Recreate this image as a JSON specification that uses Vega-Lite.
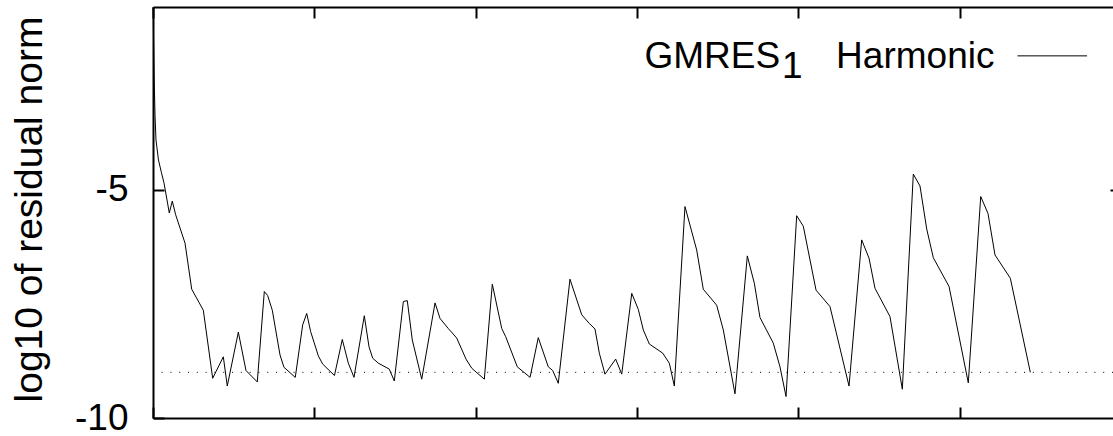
{
  "$schema": "https://vega.github.io/schema/vega-lite/v6.json",
  "width": 960,
  "height": 411,
  "autosize": {"type": "none"},
  "padding": {"left": 153, "top": 7, "right": 0, "bottom": 18},
  "background": "white",
  "config": {"view": {"stroke": null}, "font": "Liberation Sans"},
  "datasets": {
    "series": [
      {"it": 0.02, "r": -1.0}, {"it": 0.07, "r": -1.72}, {"it": 0.15, "r": -2.6}, {"it": 0.25, "r": -3.37},
      {"it": 0.37, "r": -3.91}, {"it": 0.68, "r": -4.35}, {"it": 1.05, "r": -4.63}, {"it": 1.36, "r": -4.85},
      {"it": 2.02, "r": -5.51}, {"it": 2.39, "r": -5.25}, {"it": 2.81, "r": -5.55}, {"it": 3.97, "r": -6.17},
      {"it": 4.8, "r": -7.18}, {"it": 6.24, "r": -7.64}, {"it": 7.4, "r": -9.13}, {"it": 8.72, "r": -8.66},
      {"it": 9.21, "r": -9.3}, {"it": 10.58, "r": -8.12}, {"it": 11.53, "r": -8.96}, {"it": 12.93, "r": -9.21},
      {"it": 13.8, "r": -7.23}, {"it": 14.22, "r": -7.32}, {"it": 14.79, "r": -7.64}, {"it": 15.75, "r": -8.62},
      {"it": 16.24, "r": -8.89}, {"it": 17.64, "r": -9.11}, {"it": 18.56, "r": -7.96}, {"it": 19.06, "r": -7.71},
      {"it": 19.55, "r": -8.11}, {"it": 20.5, "r": -8.64}, {"it": 21.04, "r": -8.82}, {"it": 22.5, "r": -9.07},
      {"it": 23.47, "r": -8.28}, {"it": 24.22, "r": -8.8}, {"it": 24.92, "r": -9.11}, {"it": 26.2, "r": -7.76},
      {"it": 26.78, "r": -8.44}, {"it": 27.24, "r": -8.69}, {"it": 27.94, "r": -8.8}, {"it": 29.3, "r": -8.93},
      {"it": 29.92, "r": -9.19}, {"it": 31.04, "r": -7.45}, {"it": 31.53, "r": -7.43}, {"it": 32.15, "r": -8.29},
      {"it": 33.32, "r": -9.15}, {"it": 34.97, "r": -7.48}, {"it": 35.59, "r": -7.82}, {"it": 36.61, "r": -8.04},
      {"it": 37.66, "r": -8.25}, {"it": 38.81, "r": -8.71}, {"it": 39.52, "r": -8.91}, {"it": 41.08, "r": -9.15},
      {"it": 42.07, "r": -7.07}, {"it": 43.24, "r": -8.04}, {"it": 43.73, "r": -8.22}, {"it": 45.17, "r": -8.88},
      {"it": 46.75, "r": -9.11}, {"it": 47.77, "r": -8.24}, {"it": 49.01, "r": -8.88}, {"it": 49.56, "r": -8.96},
      {"it": 50.25, "r": -9.24}, {"it": 51.7, "r": -6.96}, {"it": 53.16, "r": -7.74}, {"it": 54.1, "r": -7.93},
      {"it": 54.8, "r": -8.05}, {"it": 55.34, "r": -8.58}, {"it": 56.04, "r": -9.04}, {"it": 57.37, "r": -8.71},
      {"it": 58.12, "r": -9.04}, {"it": 59.36, "r": -7.27}, {"it": 60.17, "r": -7.62}, {"it": 60.79, "r": -8.07},
      {"it": 61.54, "r": -8.38}, {"it": 63.2, "r": -8.58}, {"it": 64.02, "r": -8.8}, {"it": 64.64, "r": -9.3},
      {"it": 65.96, "r": -5.37}, {"it": 67.41, "r": -6.32}, {"it": 68.23, "r": -7.18}, {"it": 69.89, "r": -7.53},
      {"it": 70.71, "r": -8.07}, {"it": 72.16, "r": -9.47}, {"it": 73.69, "r": -6.45}, {"it": 74.56, "r": -7.05},
      {"it": 75.26, "r": -7.8}, {"it": 76.91, "r": -8.36}, {"it": 77.74, "r": -8.88}, {"it": 78.49, "r": -9.53},
      {"it": 79.81, "r": -5.57}, {"it": 80.63, "r": -5.8}, {"it": 82.21, "r": -7.2}, {"it": 83.94, "r": -7.56},
      {"it": 86.3, "r": -9.3}, {"it": 87.87, "r": -6.1}, {"it": 88.78, "r": -6.5}, {"it": 89.52, "r": -7.16},
      {"it": 91.38, "r": -7.78}, {"it": 92.91, "r": -9.37}, {"it": 94.27, "r": -4.66}, {"it": 95.1, "r": -4.92},
      {"it": 95.93, "r": -5.86}, {"it": 96.75, "r": -6.49}, {"it": 98.7, "r": -7.12}, {"it": 101.09, "r": -9.23},
      {"it": 102.63, "r": -5.15}, {"it": 103.53, "r": -5.52}, {"it": 104.4, "r": -6.43}, {"it": 106.3, "r": -6.94},
      {"it": 108.78, "r": -9.0}
    ],
    "tol": [{"start": 1.07, "end": 119.03, "level": -9}],
    "one": [{}]
  },
  "resolve": {"axis": {"x": "independent", "y": "independent"}},
  "layer": [
    {
      "data": {"name": "series"},
      "mark": {"type": "line", "color": "black", "strokeWidth": 1},
      "encoding": {
        "x": {
          "field": "it", "type": "quantitative",
          "scale": {"domain": [0, 119.03], "nice": false, "zero": false},
          "axis": {"orient": "bottom", "values": [0, 20, 40, 60, 80, 100], "labels": false, "title": null,
                   "grid": false, "tickSize": -11, "tickWidth": 2, "tickColor": "black",
                   "domainColor": "black", "domainWidth": 2}
        },
        "y": {
          "field": "r", "type": "quantitative",
          "scale": {"domain": [-10, -1], "nice": false, "zero": false},
          "axis": {"orient": "left", "values": [-10, -5], "labelExpr": "toString(datum.value)", "grid": false,
                   "title": "log10 of residual norm", "titleFont": "Liberation Sans", "titleFontSize": 39,
                   "titleFontWeight": "normal", "titleColor": "black", "titleAngle": -90,
                   "titleX": -112, "titleY": 202, "titleAlign": "center", "titleBaseline": "alphabetic",
                   "labelFont": "Liberation Sans", "labelFontSize": 37, "labelColor": "black",
                   "labelPadding": 36, "labelFlush": false, "labelOverlap": false,
                   "tickSize": -11, "tickWidth": 2, "tickColor": "black",
                   "domainColor": "black", "domainWidth": 2}
        }
      }
    },
    {
      "data": {"name": "tol"},
      "mark": {"type": "rule", "color": "black", "strokeWidth": 1, "strokeDash": [1, 7.8]},
      "encoding": {
        "x": {
          "field": "start", "type": "quantitative",
          "scale": {"domain": [0, 119.03], "nice": false, "zero": false},
          "axis": {"orient": "top", "values": [0, 20, 40, 60, 80, 100], "labels": false, "title": null,
                   "grid": false, "tickSize": -11, "tickWidth": 2, "tickColor": "black",
                   "domainColor": "black", "domainWidth": 2}
        },
        "x2": {"field": "end"},
        "y": {
          "field": "level", "type": "quantitative",
          "scale": {"domain": [-10, -1], "nice": false, "zero": false},
          "axis": {"orient": "right", "values": [-5], "labels": false, "title": null, "domain": false,
                   "grid": false, "tickSize": -3, "tickWidth": 2, "tickColor": "black"}
        }
      }
    },
    {
      "data": {"name": "one"},
      "mark": {"type": "text", "text": "GMRES", "font": "Liberation Sans", "fontSize": 37, "color": "black",
               "align": "left", "baseline": "alphabetic"},
      "encoding": {
        "x": {"datum": 60.94, "type": "quantitative", "axis": null},
        "y": {"datum": -2.34, "type": "quantitative", "axis": null}
      }
    },
    {
      "data": {"name": "one"},
      "mark": {"type": "text", "text": "1", "font": "Liberation Sans", "fontSize": 37, "color": "black",
               "align": "left", "baseline": "alphabetic"},
      "encoding": {
        "x": {"datum": 78.0, "type": "quantitative", "axis": null},
        "y": {"datum": -2.56, "type": "quantitative", "axis": null}
      }
    },
    {
      "data": {"name": "one"},
      "mark": {"type": "text", "text": "Harmonic", "font": "Liberation Sans", "fontSize": 37, "color": "black",
               "align": "left", "baseline": "alphabetic"},
      "encoding": {
        "x": {"datum": 84.7, "type": "quantitative", "axis": null},
        "y": {"datum": -2.34, "type": "quantitative", "axis": null}
      }
    },
    {
      "data": {"name": "one"},
      "mark": {"type": "rule", "color": "black", "strokeWidth": 1},
      "encoding": {
        "x": {"datum": 107.19, "type": "quantitative", "axis": null},
        "x2": {"datum": 115.81},
        "y": {"datum": -2.07, "type": "quantitative", "axis": null}
      }
    }
  ]
}
